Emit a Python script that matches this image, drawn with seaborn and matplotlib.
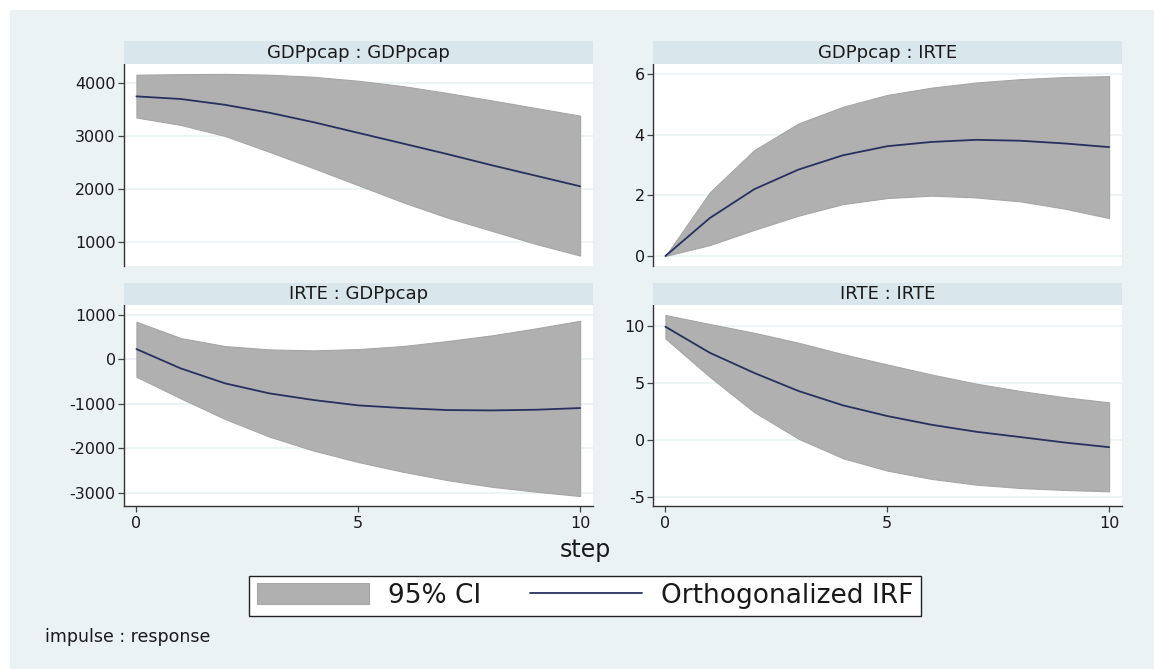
import numpy as np
import pandas as pd
import matplotlib
matplotlib.use("Agg")
import matplotlib.pyplot as plt
import seaborn as sns
from matplotlib.patches import Rectangle, Patch
from matplotlib.lines import Line2D

sns.set_style("white")
plt.rcParams['font.family'] = ['DejaVu Sans']

steps = list(range(11))

# GDPpcap : GDPpcap
gg_irf = [3750, 3700, 3590, 3440, 3260, 3060, 2860, 2660, 2450, 2250, 2050]
gg_up = [4160, 4170, 4175, 4160, 4120, 4045, 3945, 3815, 3675, 3530, 3385]
gg_lo = [3350, 3210, 3000, 2700, 2390, 2070, 1750, 1460, 1210, 960, 740]

# GDPpcap : IRTE
gi_irf = [0, 1.25, 2.2, 2.85, 3.32, 3.62, 3.76, 3.83, 3.80, 3.71, 3.59]
gi_up = [0, 2.1, 3.49, 4.37, 4.92, 5.31, 5.55, 5.72, 5.83, 5.9, 5.93]
gi_lo = [0, 0.36, 0.86, 1.33, 1.71, 1.91, 1.99, 1.93, 1.8, 1.56, 1.25]

# IRTE : GDPpcap
ig_irf = [233, -203, -540, -765, -915, -1035, -1095, -1140, -1148, -1133, -1095]
ig_up = [848, 480, 300, 225, 203, 233, 300, 413, 540, 698, 870]
ig_lo = [-390, -878, -1343, -1740, -2055, -2310, -2528, -2716, -2866, -2978, -3076]

# IRTE : IRTE
ii_irf = [9.94, 7.65, 5.88, 4.29, 3.03, 2.09, 1.32, 0.71, 0.24, -0.24, -0.65]
ii_up = [10.97, 10.18, 9.41, 8.53, 7.53, 6.62, 5.74, 4.94, 4.29, 3.74, 3.29]
ii_lo = [8.91, 5.53, 2.44, 0.09, -1.62, -2.71, -3.44, -3.94, -4.24, -4.41, -4.53]

titles = ["GDPpcap : GDPpcap", "GDPpcap : IRTE", "IRTE : GDPpcap", "IRTE : IRTE"]
yticks = [[1000, 2000, 3000, 4000], [0, 2, 4, 6], [-3000, -2000, -1000, 0, 1000], [-5, 0, 5, 10]]
xticks = [0, 5, 10]

panels = [
    (gg_irf, gg_up, gg_lo, (543, 4362)),
    (gi_irf, gi_up, gi_lo, (-0.33, 6.33)),
    (ig_irf, ig_up, ig_lo, (-3300, 1225)),
    (ii_irf, ii_up, ii_lo, (-5.82, 11.85)),
]

W, H = 1154, 669
BG = "#eaf2f3"
STRIP = "#d9e6eb"
CI = "#b0b0b0"
NAVY = "#27305e"
TXT = "#1a1a1a"

fig = plt.figure(figsize=(W / 100, H / 100), dpi=100)
fig.patch.set_facecolor("white")
fig.patches.append(Rectangle((10 / W, 0), 1 - 10 / W, 1 - 10 / H, transform=fig.transFigure,
                             facecolor=BG, edgecolor="none", zorder=-10))

def fx(px):
    return px / W

def fy(py):
    return 1 - py / H

cols = [(124, 593), (653, 1122)]
rows = [(41, 64, 266), (283, 305, 506)]

for i, (irf, up, lo, ylim) in enumerate(panels):
    r, c = divmod(i, 2)
    x0, x1 = cols[c]
    st, y0, y1 = rows[r]
    ax = fig.add_axes([fx(x0), fy(y1), fx(x1 - x0), (y1 - y0) / H])
    ax.set_facecolor("white")
    df = pd.DataFrame({"step": steps, "irf": irf, "up": up, "lo": lo})
    ax.fill_between(df["step"], df["lo"], df["up"], facecolor=CI, edgecolor="#a6a6a6",
                    linewidth=0.8, zorder=2)
    sns.lineplot(data=df, x="step", y="irf", ax=ax, color=NAVY, linewidth=1.3, zorder=3)
    ax.set_xlim(-0.28, 10.29)
    ax.set_ylim(*ylim)
    ax.set_yticks(yticks[i])
    ax.set_yticklabels([str(t) for t in yticks[i]], fontsize=11.5, color=TXT)
    for t in yticks[i]:
        ax.axhline(t, color=BG, linewidth=1.2, zorder=1)
    ax.set_xlabel("")
    ax.set_ylabel("")
    for s in ["top", "right"]:
        ax.spines[s].set_visible(False)
    ax.spines["left"].set_color("#333333")
    ax.spines["left"].set_linewidth(1.0)
    ax.tick_params(axis="y", direction="out", length=4, width=0.9, color="#444444", pad=2,
                   left=True)
    if r == 1:
        ax.set_xticks(xticks)
        ax.set_xticklabels([str(t) for t in xticks], fontsize=11.5, color=TXT)
        ax.spines["bottom"].set_color("#333333")
        ax.spines["bottom"].set_linewidth(1.0)
        ax.tick_params(axis="x", direction="out", length=4, width=0.9, color="#444444", pad=3,
                       bottom=True)
    else:
        ax.set_xticks([])
        ax.spines["bottom"].set_visible(False)
    sax = fig.add_axes([fx(x0), fy(y0), fx(x1 - x0), (y0 - st) / H])
    sax.set_facecolor(STRIP)
    sax.set_xticks([])
    sax.set_yticks([])
    for s in sax.spines.values():
        s.set_visible(False)
    sax.text(0.5, 0.5, titles[i], ha="center", va="center", fontsize=13, color=TXT,
             transform=sax.transAxes)

fig.text(fx(585), fy(550), "step", ha="center", va="center", fontsize=17, color=TXT)
fig.text(fx(45), fy(637), "impulse : response", ha="left", va="center", fontsize=12.5, color=TXT)

handles = [Patch(facecolor=CI, edgecolor="#a6a6a6", linewidth=0.8),
           Line2D([0], [0], color=NAVY, linewidth=1.3)]
leg = fig.legend(handles, ["95% CI", "Orthogonalized IRF"], loc="center",
                 bbox_to_anchor=(fx(585), fy(596)), ncol=2, fontsize=19,
                 frameon=True, fancybox=False, edgecolor="#222222", facecolor="white",
                 framealpha=1, handlelength=4.25, handleheight=0.85, handletextpad=0.72,
                 columnspacing=1.85, borderpad=0.28, borderaxespad=0)
leg.get_frame().set_linewidth(1.0)
for t in leg.get_texts():
    t.set_color(TXT)

fig.savefig("out.png", dpi=100, facecolor=fig.get_facecolor())
